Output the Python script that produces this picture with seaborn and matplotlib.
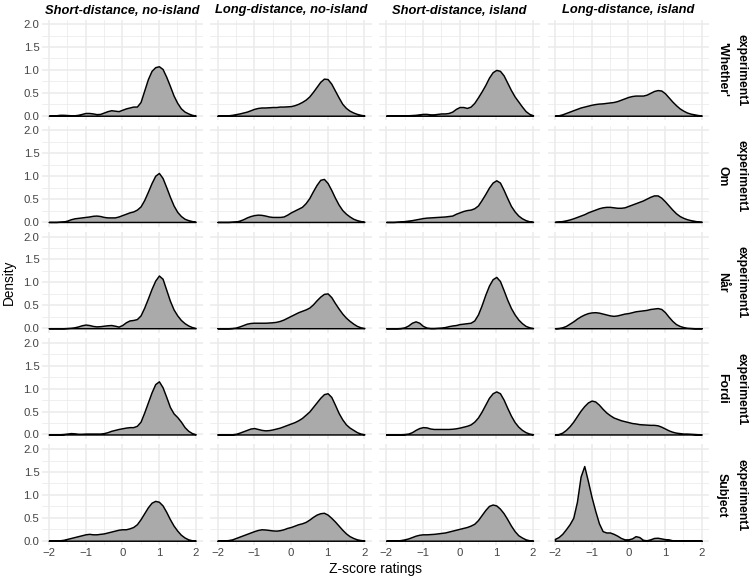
import numpy as np
import pandas as pd
import matplotlib
matplotlib.use("Agg")
import matplotlib.pyplot as plt
import seaborn as sns
from matplotlib.ticker import MultipleLocator

# ---------------- data ----------------
z_grid = [-2.0, -1.9, -1.8, -1.7, -1.6, -1.5, -1.4, -1.3, -1.2, -1.1,
          -1.0, -0.9, -0.8, -0.7, -0.6, -0.5, -0.4, -0.3, -0.2, -0.1,
          0.0, 0.1, 0.2, 0.3, 0.4, 0.5, 0.6, 0.7, 0.8, 0.9,
          1.0, 1.1, 1.2, 1.3, 1.4, 1.5, 1.6, 1.7, 1.8, 1.9, 2.0]

dependencies = ["Short-distance, no-island", "Long-distance, no-island",
                "Short-distance, island", "Long-distance, island"]
conditions = ["'Whether'", "Om", "Når", "Fordi", "Subject"]
experiment = "experiment1"

x_ticks = [-2, -1, 0, 1, 2]
x_tick_labels = ["\u22122", "\u22121", "0", "1", "2"]
y_ticks = [0, 0.5, 1.0, 1.5, 2.0]
y_tick_labels = ["0.0", "0.5", "1.0", "1.5", "2.0"]

# 'Whether'
whether_sd_noisl = [0.0, 0.005, 0.01, 0.02, 0.02, 0.015, 0.01, 0.01, 0.02, 0.04, 0.06, 0.06, 0.05, 0.035, 0.04, 0.07, 0.1, 0.12, 0.11, 0.1, 0.13, 0.16, 0.18, 0.2, 0.2, 0.3, 0.55, 0.8, 0.98, 1.06, 1.08, 1.02, 0.85, 0.65, 0.44, 0.28, 0.16, 0.09, 0.05, 0.02, 0.005]
whether_ld_noisl = [0.0, 0.0, 0.005, 0.01, 0.02, 0.035, 0.05, 0.07, 0.09, 0.12, 0.15, 0.17, 0.18, 0.18, 0.185, 0.19, 0.19, 0.2, 0.2, 0.205, 0.21, 0.23, 0.26, 0.3, 0.35, 0.42, 0.52, 0.63, 0.74, 0.81, 0.8, 0.7, 0.55, 0.4, 0.26, 0.17, 0.11, 0.07, 0.04, 0.02, 0.005]
whether_sd_isl = [0.0, 0.0, 0.0, 0.0, 0.005, 0.005, 0.01, 0.015, 0.02, 0.03, 0.04, 0.04, 0.03, 0.03, 0.04, 0.05, 0.05, 0.06, 0.09, 0.15, 0.19, 0.19, 0.17, 0.2, 0.28, 0.4, 0.53, 0.67, 0.83, 0.95, 1.0, 0.98, 0.88, 0.72, 0.56, 0.42, 0.31, 0.2, 0.1, 0.04, 0.01]
whether_ld_isl = [0.005, 0.01, 0.03, 0.06, 0.09, 0.12, 0.15, 0.18, 0.2, 0.22, 0.24, 0.255, 0.265, 0.27, 0.28, 0.29, 0.3, 0.32, 0.35, 0.38, 0.41, 0.43, 0.44, 0.44, 0.44, 0.46, 0.5, 0.54, 0.56, 0.55, 0.49, 0.4, 0.31, 0.23, 0.16, 0.11, 0.07, 0.045, 0.03, 0.015, 0.005]
# Om
om_sd_noisl = [0.0, 0.0, 0.0, 0.005, 0.01, 0.03, 0.06, 0.08, 0.09, 0.1, 0.11, 0.12, 0.135, 0.14, 0.13, 0.11, 0.1, 0.1, 0.1, 0.12, 0.15, 0.18, 0.21, 0.23, 0.27, 0.34, 0.48, 0.66, 0.85, 1.01, 1.07, 0.96, 0.76, 0.55, 0.36, 0.22, 0.13, 0.07, 0.04, 0.02, 0.005]
om_ld_noisl = [0.0, 0.0, 0.0, 0.0, 0.005, 0.01, 0.03, 0.06, 0.1, 0.13, 0.15, 0.16, 0.155, 0.14, 0.12, 0.11, 0.11, 0.11, 0.12, 0.16, 0.21, 0.25, 0.29, 0.33, 0.41, 0.52, 0.67, 0.81, 0.92, 0.94, 0.85, 0.7, 0.53, 0.38, 0.26, 0.18, 0.12, 0.07, 0.04, 0.02, 0.005]
om_sd_isl = [0.0, 0.0, 0.0, 0.005, 0.01, 0.02, 0.03, 0.04, 0.055, 0.07, 0.085, 0.095, 0.1, 0.105, 0.11, 0.115, 0.12, 0.13, 0.14, 0.18, 0.21, 0.24, 0.26, 0.27, 0.3, 0.36, 0.48, 0.61, 0.75, 0.86, 0.91, 0.86, 0.7, 0.52, 0.35, 0.23, 0.14, 0.08, 0.04, 0.015, 0.005]
om_ld_isl = [0.005, 0.01, 0.02, 0.035, 0.055, 0.08, 0.11, 0.14, 0.17, 0.21, 0.24, 0.27, 0.3, 0.32, 0.33, 0.33, 0.32, 0.31, 0.31, 0.32, 0.35, 0.38, 0.41, 0.44, 0.47, 0.51, 0.55, 0.58, 0.58, 0.53, 0.45, 0.36, 0.27, 0.19, 0.13, 0.09, 0.06, 0.04, 0.025, 0.01, 0.005]
# Når
nar_sd_noisl = [0.0, 0.0, 0.0, 0.0, 0.0, 0.005, 0.01, 0.02, 0.04, 0.065, 0.08, 0.07, 0.05, 0.04, 0.045, 0.055, 0.065, 0.07, 0.055, 0.035, 0.07, 0.13, 0.17, 0.18, 0.2, 0.28, 0.45, 0.65, 0.86, 1.04, 1.15, 1.08, 0.84, 0.6, 0.41, 0.28, 0.18, 0.11, 0.06, 0.025, 0.005]
nar_ld_noisl = [0.0, 0.0, 0.0, 0.0, 0.005, 0.015, 0.04, 0.07, 0.1, 0.115, 0.12, 0.12, 0.12, 0.12, 0.125, 0.13, 0.14, 0.16, 0.19, 0.23, 0.27, 0.31, 0.35, 0.38, 0.41, 0.45, 0.52, 0.61, 0.69, 0.75, 0.76, 0.68, 0.55, 0.43, 0.32, 0.23, 0.16, 0.1, 0.05, 0.02, 0.005]
nar_sd_isl = [0.0, 0.0, 0.0, 0.0, 0.005, 0.02, 0.06, 0.12, 0.15, 0.12, 0.05, 0.015, 0.005, 0.005, 0.01, 0.015, 0.025, 0.045, 0.06, 0.07, 0.09, 0.1, 0.11, 0.12, 0.17, 0.3, 0.5, 0.73, 0.93, 1.07, 1.12, 1.03, 0.83, 0.62, 0.44, 0.3, 0.19, 0.11, 0.05, 0.02, 0.005]
nar_ld_isl = [0.0, 0.005, 0.02, 0.05, 0.1, 0.15, 0.21, 0.26, 0.3, 0.33, 0.345, 0.35, 0.34, 0.32, 0.3, 0.28, 0.27, 0.28, 0.3, 0.32, 0.33, 0.35, 0.37, 0.38, 0.39, 0.4, 0.42, 0.43, 0.44, 0.42, 0.35, 0.25, 0.16, 0.09, 0.05, 0.025, 0.01, 0.005, 0.0, 0.0, 0.0]
# Fordi
fordi_sd_noisl = [0.0, 0.0, 0.0, 0.005, 0.01, 0.02, 0.03, 0.025, 0.015, 0.015, 0.02, 0.02, 0.02, 0.02, 0.02, 0.03, 0.05, 0.08, 0.1, 0.12, 0.135, 0.15, 0.16, 0.16, 0.19, 0.28, 0.48, 0.7, 0.92, 1.1, 1.16, 1.03, 0.82, 0.6, 0.46, 0.38, 0.28, 0.16, 0.08, 0.03, 0.005]
fordi_ld_noisl = [0.0, 0.0, 0.0, 0.0, 0.005, 0.015, 0.04, 0.07, 0.1, 0.13, 0.14, 0.12, 0.1, 0.09, 0.095, 0.11, 0.13, 0.15, 0.18, 0.21, 0.24, 0.27, 0.31, 0.36, 0.43, 0.5, 0.6, 0.7, 0.8, 0.88, 0.9, 0.82, 0.65, 0.47, 0.33, 0.22, 0.15, 0.1, 0.05, 0.02, 0.005]
fordi_sd_isl = [0.0, 0.0, 0.0, 0.0, 0.005, 0.01, 0.02, 0.05, 0.1, 0.14, 0.16, 0.155, 0.13, 0.12, 0.12, 0.12, 0.12, 0.12, 0.125, 0.135, 0.15, 0.17, 0.19, 0.22, 0.28, 0.37, 0.5, 0.65, 0.8, 0.9, 0.94, 0.9, 0.76, 0.58, 0.41, 0.27, 0.17, 0.1, 0.05, 0.02, 0.005]
fordi_ld_isl = [0.0, 0.01, 0.04, 0.1, 0.18, 0.28, 0.4, 0.52, 0.62, 0.7, 0.74, 0.72, 0.65, 0.56, 0.48, 0.42, 0.37, 0.34, 0.31, 0.29, 0.27, 0.25, 0.24, 0.225, 0.22, 0.215, 0.21, 0.21, 0.2, 0.17, 0.13, 0.09, 0.06, 0.04, 0.03, 0.02, 0.02, 0.015, 0.01, 0.005, 0.0]
# Subject
subj_sd_noisl = [0.0, 0.0, 0.005, 0.01, 0.02, 0.04, 0.06, 0.08, 0.1, 0.12, 0.14, 0.15, 0.14, 0.14, 0.15, 0.16, 0.18, 0.2, 0.22, 0.24, 0.25, 0.25, 0.27, 0.3, 0.36, 0.47, 0.6, 0.73, 0.83, 0.87, 0.85, 0.77, 0.63, 0.47, 0.33, 0.22, 0.13, 0.07, 0.03, 0.01, 0.005]
subj_ld_noisl = [0.0, 0.0, 0.005, 0.015, 0.03, 0.06, 0.09, 0.12, 0.15, 0.18, 0.21, 0.235, 0.25, 0.245, 0.235, 0.225, 0.22, 0.23, 0.25, 0.28, 0.3, 0.33, 0.36, 0.38, 0.41, 0.46, 0.52, 0.57, 0.6, 0.61, 0.57, 0.5, 0.42, 0.33, 0.24, 0.16, 0.1, 0.06, 0.03, 0.015, 0.005]
subj_sd_isl = [0.0, 0.0, 0.0, 0.005, 0.015, 0.03, 0.05, 0.08, 0.11, 0.13, 0.14, 0.14, 0.145, 0.15, 0.16, 0.17, 0.18, 0.2, 0.22, 0.24, 0.26, 0.28, 0.3, 0.33, 0.37, 0.45, 0.56, 0.67, 0.76, 0.79, 0.77, 0.7, 0.6, 0.47, 0.33, 0.21, 0.12, 0.07, 0.03, 0.01, 0.005]
subj_ld_isl = [0.04, 0.08, 0.15, 0.25, 0.36, 0.5, 0.85, 1.4, 1.63, 1.3, 0.95, 0.65, 0.38, 0.21, 0.18, 0.18, 0.15, 0.11, 0.06, 0.03, 0.03, 0.05, 0.1, 0.08, 0.02, 0.01, 0.03, 0.06, 0.065, 0.05, 0.035, 0.03, 0.01, 0.0, 0.0, 0.0, 0.0, 0.0, 0.0, 0.0, 0.0]

panel_values = {
    ("'Whether'", dependencies[0]): whether_sd_noisl,
    ("'Whether'", dependencies[1]): whether_ld_noisl,
    ("'Whether'", dependencies[2]): whether_sd_isl,
    ("'Whether'", dependencies[3]): whether_ld_isl,
    ("Om", dependencies[0]): om_sd_noisl,
    ("Om", dependencies[1]): om_ld_noisl,
    ("Om", dependencies[2]): om_sd_isl,
    ("Om", dependencies[3]): om_ld_isl,
    ("Når", dependencies[0]): nar_sd_noisl,
    ("Når", dependencies[1]): nar_ld_noisl,
    ("Når", dependencies[2]): nar_sd_isl,
    ("Når", dependencies[3]): nar_ld_isl,
    ("Fordi", dependencies[0]): fordi_sd_noisl,
    ("Fordi", dependencies[1]): fordi_ld_noisl,
    ("Fordi", dependencies[2]): fordi_sd_isl,
    ("Fordi", dependencies[3]): fordi_ld_isl,
    ("Subject", dependencies[0]): subj_sd_noisl,
    ("Subject", dependencies[1]): subj_ld_noisl,
    ("Subject", dependencies[2]): subj_sd_isl,
    ("Subject", dependencies[3]): subj_ld_isl,
}

rows = []
for (cond, dep), vals in panel_values.items():
    for zv, dv in zip(z_grid, vals):
        rows.append({"condition": cond, "dependency": dep, "z": zv, "density": dv})
df = pd.DataFrame(rows)

# ---------------- styling ----------------
sns.set_theme(style="white")
plt.rcParams["font.family"] = ["Liberation Sans", "DejaVu Sans"]

FILL = "#AAAAAA"
GRID = "#EBEBEB"
TICK_COLOR = "#444444"

g = sns.FacetGrid(df, row="condition", col="dependency",
                  row_order=conditions, col_order=dependencies,
                  sharex=True, sharey=True, height=1.0, aspect=1.6,
                  despine=False)


def draw_density(data, **kws):
    ax = plt.gca()
    ax.fill_between(data["z"], data["density"], 0, facecolor=FILL,
                    edgecolor="black", linewidth=1.05, zorder=3)


g.map_dataframe(draw_density)

fig = g.figure
fig.set_size_inches(7.52, 5.84)
fig.set_dpi(100)
W, H = 752.0, 584.0
fig.subplots_adjust(left=41.5 / W, right=709.0 / W,
                    top=1 - 19.5 / H, bottom=1 - 545.3 / H,
                    wspace=0.045, hspace=0.054)

for i, cond in enumerate(conditions):
    for j, dep in enumerate(dependencies):
        ax = g.axes[i, j]
        ax.set_title("")
        ax.set_xlabel("")
        ax.set_ylabel("")
        ax.set_facecolor("white")
        for s in ax.spines.values():
            s.set_visible(False)
        ax.set_xlim(-2.2, 2.2)
        ax.set_ylim(-0.1, 2.1)
        ax.xaxis.set_major_locator(MultipleLocator(1))
        ax.xaxis.set_minor_locator(MultipleLocator(0.5))
        ax.yaxis.set_major_locator(MultipleLocator(0.5))
        ax.yaxis.set_minor_locator(MultipleLocator(0.25))
        ax.grid(which="major", color=GRID, linewidth=1.1, zorder=0)
        ax.grid(which="minor", color=GRID, linewidth=0.55, zorder=0)
        ax.set_axisbelow(True)
        ax.tick_params(which="both", length=0, labelsize=8.2,
                       labelcolor=TICK_COLOR)
        ax.tick_params(axis="y", pad=1.5)
        ax.tick_params(axis="x", pad=2.0)
        if j == 0:
            ax.set_yticks(y_ticks)
            ax.set_yticklabels(y_tick_labels)
        if i == len(conditions) - 1:
            ax.set_xticks(x_ticks)
            ax.set_xticklabels(x_tick_labels)

# column titles
for j, dep in enumerate(dependencies):
    pos = g.axes[0, j].get_position()
    fig.text((pos.x0 + pos.x1) / 2, 1 - 10.5 / H, dep, ha="center", va="center",
             fontsize=9.3, fontweight="bold", fontstyle="italic", color="black")

# row strips (two strips per row)
for i, cond in enumerate(conditions):
    pos = g.axes[i, -1].get_position()
    yc = (pos.y0 + pos.y1) / 2
    fig.text(722 / W, yc, cond, ha="center", va="center", rotation=270,
             fontsize=8.8, fontweight="bold", color="black")
    fig.text(742 / W, yc, experiment, ha="center", va="center", rotation=270,
             fontsize=8.8, fontweight="bold", color="black")

# axis titles
p_top = g.axes[0, 0].get_position()
p_bot = g.axes[-1, 0].get_position()
p_right = g.axes[-1, -1].get_position()
fig.text(9 / W, (p_top.y1 + p_bot.y0) / 2, "Density", rotation=90,
         ha="center", va="center", fontsize=9.8, color="black")
fig.text((p_bot.x0 + p_right.x1) / 2, 1 - 569 / H, "Z-score ratings",
         ha="center", va="center", fontsize=10, color="black")

fig.savefig("out.png", dpi=100, facecolor="white")
